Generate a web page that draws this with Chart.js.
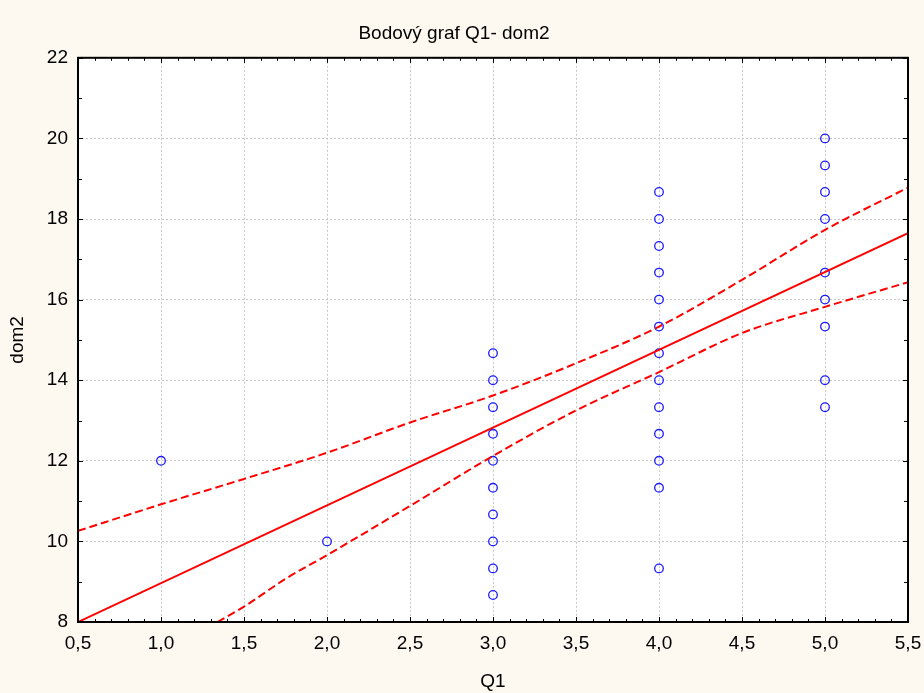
<!DOCTYPE html>
<html>
<head>
<meta charset="utf-8">
<script src="https://cdn.jsdelivr.net/npm/chart.js@4/dist/chart.umd.min.js"></script>
<style>
  html, body { margin: 0; padding: 0; background: #fdf9f0; }
  #wrap { width: 924px; height: 693px; position: relative; }
</style>
</head>
<body>
<div id="wrap"><canvas id="c"></canvas></div>
<script>
// Observed dom2 scores at each Q1 level
const q1Levels = [1, 2, 3, 4, 5];
const dom2AtQ1_1 = [12];
const dom2AtQ1_2 = [10];
const dom2AtQ1_3 = [14.67, 14, 13.33, 12.67, 12, 11.33, 10.67, 10, 9.33, 8.67];
const dom2AtQ1_4 = [18.67, 18, 17.33, 16.67, 16, 15.33, 14.67, 14, 13.33, 12.67, 12, 11.33, 9.33];
const dom2AtQ1_5 = [20, 19.33, 18.67, 18, 16.67, 16, 15.33, 14, 13.33];

// Fitted regression line (end points across the axis range)
const fitX = [0.5, 5.5];
const fitY = [8.0, 17.65];

// 95% confidence band around the fit
const upperBandX = [0.5, 1.0, 1.5, 2.0, 2.5, 3.0, 3.5, 4.0, 4.5, 5.0, 5.5];
const upperBandY = [10.26, 10.92, 11.55, 12.2, 12.95, 13.62, 14.42, 15.33, 16.49, 17.73, 18.78];
const lowerBandX = [1.34, 1.5, 1.75, 2.0, 2.5, 3.0, 3.5, 4.0, 4.5, 5.0, 5.5];
const lowerBandY = [8.0, 8.38, 9.07, 9.66, 10.88, 12.12, 13.25, 14.2, 15.17, 15.82, 16.43];

// Axis ticks
const xTickValues = [0.5, 1.0, 1.5, 2.0, 2.5, 3.0, 3.5, 4.0, 4.5, 5.0, 5.5];
const yTickValues = [8, 10, 12, 14, 16, 18, 20, 22];

const FONT = '"Liberation Sans", Arial, sans-serif';

const pairs = (xs, ys) => xs.map((x, i) => ({ x: x, y: ys[i] }));

const scatterPoints = [];
[dom2AtQ1_1, dom2AtQ1_2, dom2AtQ1_3, dom2AtQ1_4, dom2AtQ1_5].forEach((col, i) => {
  col.forEach(v => scatterPoints.push({ x: q1Levels[i], y: v }));
});

// Frame with inward major/minor ticks on all four sides
const framePlugin = {
  id: 'frame',
  afterDraw(chart) {
    const { ctx, chartArea: a, scales: { x, y } } = chart;
    ctx.save();
    ctx.strokeStyle = '#000';
    ctx.lineWidth = 1;
    const xMin = xTickValues[0], xMax = xTickValues[xTickValues.length - 1];
    for (let k = 0; k <= Math.round((xMax - xMin) * 10); k++) {
      const v = xMin + k * 0.1;
      const major = k % 5 === 0;
      const len = major ? 5 : 3;
      const px = Math.round(x.getPixelForValue(v)) + 0.5;
      ctx.beginPath();
      ctx.moveTo(px, a.bottom); ctx.lineTo(px, a.bottom - len);
      ctx.moveTo(px, a.top); ctx.lineTo(px, a.top + len);
      ctx.stroke();
    }
    const yMin = yTickValues[0], yMax = yTickValues[yTickValues.length - 1];
    for (let v = yMin; v <= yMax; v += 1) {
      const major = (v - yMin) % 2 === 0;
      const len = major ? 5 : 4;
      const py = Math.round(y.getPixelForValue(v)) + 0.5;
      ctx.beginPath();
      ctx.moveTo(a.left, py); ctx.lineTo(a.left + len, py);
      ctx.moveTo(a.right, py); ctx.lineTo(a.right - len, py);
      ctx.stroke();
    }
    ctx.lineWidth = 2;
    ctx.strokeRect(a.left, a.top, a.right - a.left, a.bottom - a.top);
    ctx.restore();
  }
};

const areaBgPlugin = {
  id: 'areaBg',
  beforeDraw(chart) {
    const { ctx, chartArea: a } = chart;
    ctx.save();
    ctx.fillStyle = '#fdf9f0';
    ctx.fillRect(0, 0, chart.width, chart.height);
    ctx.fillStyle = '#ffffff';
    ctx.fillRect(a.left, a.top, a.right - a.left, a.bottom - a.top);
    ctx.restore();
  }
};

new Chart(document.getElementById('c'), {
  type: 'scatter',
  data: {
    datasets: [
      {
        label: 'dom2',
        data: scatterPoints,
        showLine: false,
        pointStyle: 'circle',
        pointRadius: 4.3,
        pointBorderWidth: 1.3,
        pointBorderColor: '#1a1aff',
        pointBackgroundColor: 'rgba(0,0,0,0)',
        order: 2
      },
      {
        label: 'fit',
        data: pairs(fitX, fitY),
        showLine: true,
        borderColor: '#ff0000',
        borderWidth: 2,
        pointRadius: 0,
        order: 1
      },
      {
        label: 'upper',
        data: pairs(upperBandX, upperBandY),
        showLine: true,
        borderColor: '#ff0000',
        borderWidth: 2,
        borderDash: [8, 4],
        cubicInterpolationMode: 'monotone',
        pointRadius: 0,
        order: 1
      },
      {
        label: 'lower',
        data: pairs(lowerBandX, lowerBandY),
        showLine: true,
        borderColor: '#ff0000',
        borderWidth: 2,
        borderDash: [8, 4],
        cubicInterpolationMode: 'monotone',
        pointRadius: 0,
        order: 1
      }
    ]
  },
  options: {
    responsive: true,
    maintainAspectRatio: false,
    animation: false,
    layout: { padding: { left: 0, right: 16, top: 0, bottom: 0 } },
    plugins: {
      legend: { display: false },
      tooltip: { enabled: false },
      title: {
        display: true,
        text: 'Bodový graf Q1- dom2',
        color: '#000',
        font: { family: FONT, size: 19, weight: 'normal' },
        padding: { top: 22, bottom: 13 }
      }
    },
    scales: {
      x: {
        type: 'linear',
        min: 0.5,
        max: 5.5,
        afterBuildTicks: s => { s.ticks = xTickValues.map(v => ({ value: v })); },
        afterFit: s => { s.height = 71; s.paddingLeft = 0; s.paddingRight = 0; },
        ticks: {
          color: '#000',
          padding: 10,
          font: { family: FONT, size: 19 },
          maxRotation: 0,
          callback: v => Number(v).toFixed(1).replace('.', ',')
        },
        grid: { color: '#c8c8c8', lineWidth: 1, drawTicks: false },
        border: { display: false, dash: [2, 2] },
        title: {
          display: true,
          text: 'Q1',
          color: '#000',
          font: { family: FONT, size: 19 },
          padding: { top: 0, bottom: 0 }
        }
      },
      y: {
        type: 'linear',
        min: 8,
        max: 22,
        afterBuildTicks: s => { s.ticks = yTickValues.map(v => ({ value: v })); },
        afterFit: s => { s.width = 78; },
        ticks: {
          color: '#000',
          padding: 10,
          font: { family: FONT, size: 19 }
        },
        grid: { color: '#c8c8c8', lineWidth: 1, drawTicks: false },
        border: { display: false, dash: [2, 2] },
        title: {
          display: true,
          text: 'dom2',
          color: '#000',
          font: { family: FONT, size: 19 },
          padding: { top: 6, bottom: 0 }
        }
      }
    }
  },
  plugins: [areaBgPlugin, framePlugin]
});
</script>
</body>
</html>
